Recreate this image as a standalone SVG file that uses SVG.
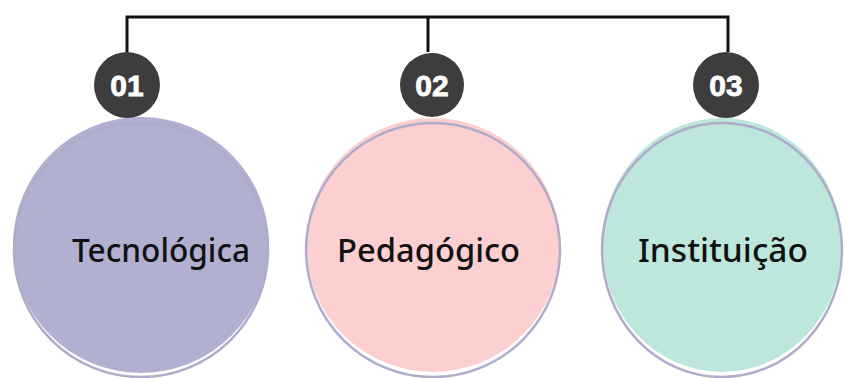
<svg xmlns="http://www.w3.org/2000/svg" width="845" height="378" viewBox="0 0 845 378">
  <style>
    .wire { fill: none; stroke: #111111; stroke-width: 3; }
    .badge { fill: #3e3d3e; }
    .num { font-family: "Liberation Sans", Arial, sans-serif; font-weight: 700; font-size: 30px; fill: #ffffff; text-anchor: middle; stroke: #ffffff; stroke-width: 0.8; }
    .ring { fill: none; stroke: #aeacca; stroke-width: 2.5; }
    .label { font-family: "Noto Sans", "Open Sans", sans-serif; font-weight: 500; font-size: 32px; fill: #111111; }
  </style>
  <rect width="845" height="378" fill="#ffffff"/>

  <!-- connectors: top bus with three drops -->
  <g id="connectors">
    <path class="wire" d="M127 52 V17 H728 V52"/>
    <path class="wire" d="M428 17 V52"/>
  </g>

  <!-- node 1 -->
  <g id="node-tecnologica">
    <circle cx="141" cy="245" r="128" fill="#b1b0d1"/>
    <circle class="ring" cx="141" cy="250" r="127"/>
    <text class="label" x="72" y="262" textLength="178" lengthAdjust="spacingAndGlyphs">Tecnológica</text>
  </g>
  <g id="badge-01">
    <circle class="badge" cx="127" cy="85" r="33"/>
    <text class="num" x="127" y="96">01</text>
  </g>

  <!-- node 2 -->
  <g id="node-pedagogico">
    <circle cx="433" cy="245" r="127" fill="#fccfd0"/>
    <circle class="ring" cx="433" cy="250" r="127"/>
    <text class="label" x="337" y="262" textLength="183" lengthAdjust="spacingAndGlyphs">Pedagógico</text>
  </g>
  <g id="badge-02">
    <circle class="badge" cx="432" cy="85" r="32"/>
    <text class="num" x="432" y="96">02</text>
  </g>

  <!-- node 3 -->
  <g id="node-instituicao">
    <ellipse cx="722" cy="245" rx="120" ry="127" fill="#bde6dc"/>
    <ellipse class="ring" cx="722" cy="250" rx="120" ry="127"/>
    <text class="label" x="638" y="262" textLength="170" lengthAdjust="spacingAndGlyphs">Instituição</text>
  </g>
  <g id="badge-03">
    <circle class="badge" cx="726" cy="85" r="33"/>
    <text class="num" x="726" y="96">03</text>
  </g>
</svg>
